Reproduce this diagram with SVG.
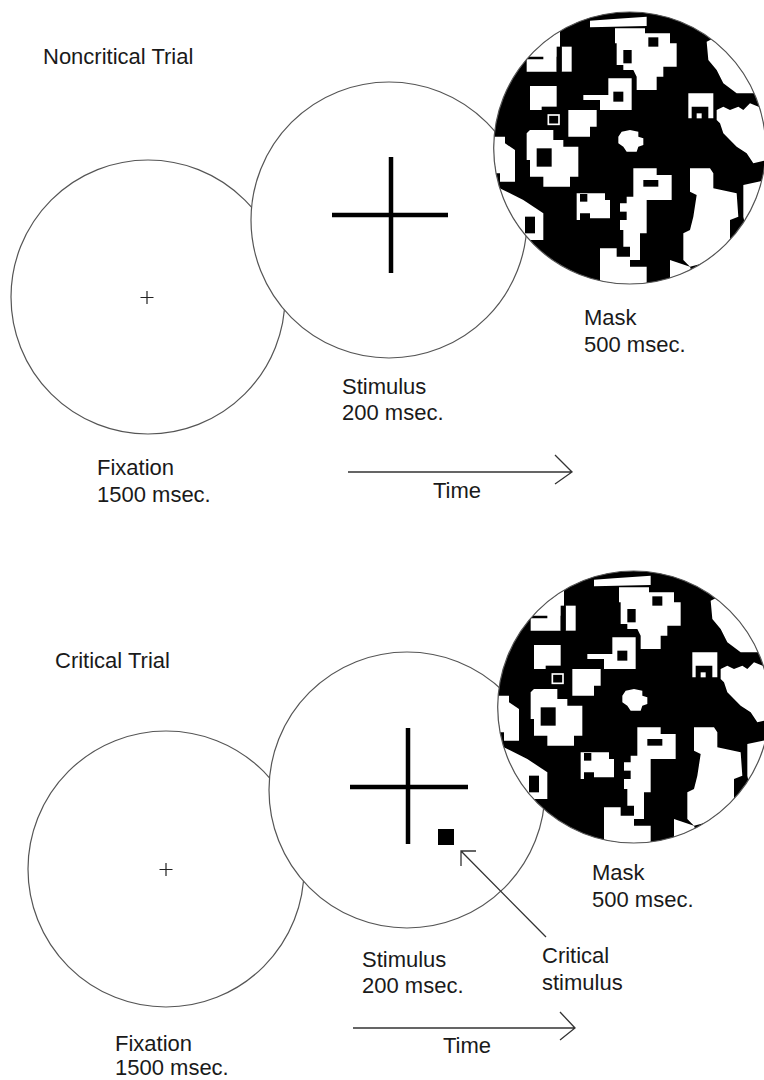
<svg xmlns="http://www.w3.org/2000/svg" xmlns:xlink="http://www.w3.org/1999/xlink" width="764" height="1080" viewBox="0 0 764 1080">
<style>
.disc{fill:#fff;stroke:#555;stroke-width:1.2}
.edge{fill:none;stroke:#555;stroke-width:1.2}
.fix{stroke:#222;stroke-width:1.2;fill:none}
.big{stroke:#000;stroke-width:4.5;fill:none}
.lbl{font-family:"Liberation Sans",Arial,Helvetica,sans-serif;font-size:22px;fill:#1a1a1a}
.arrow{stroke:#333;stroke-width:1.3;fill:none}
</style>
<defs>
<clipPath id="mclip"><circle cx="629.7" cy="148" r="136"/></clipPath>
<g id="maskpat">
<circle cx="629.7" cy="148" r="137" fill="#000"/>
<g transform="translate(490 0) scale(0.33333)">
<g fill="#fff">
<polygon points="300,62 360,58 470,50 470,78 300,82"/>
<polygon points="120,90 210,90 210,170 100,170"/>
<polygon points="375,85 465,85 465,100 540,100 540,130 560,130 560,200 520,200 520,230 500,230 500,270 440,270 440,230 430,210 400,210 400,195 380,195 380,130 375,130"/>
<polygon points="110,178 160,178 160,160 200,160 200,215 110,215"/>
<rect x="215" y="140" width="30" height="75"/>
<polygon points="650,125 700,100 820,220 830,280 740,280 700,250 680,210 655,180"/>
<rect x="120" y="258" width="80" height="72"/>
<polygon points="355,235 425,235 425,330 330,330 330,300 280,300 280,285 355,285"/>
<polygon points="235,330 320,330 320,380 300,380 300,410 235,410"/>
<polygon points="120,390 190,390 190,420 220,420 220,440 265,440 265,530 240,530 240,560 160,560 160,530 120,530 120,480 110,480 110,400"/>
<polygon points="0,410 45,410 45,430 75,450 75,545 30,545 30,520 0,520"/>
<polygon points="395,395 420,390 445,395 445,410 460,415 460,435 445,440 440,455 410,455 400,440 385,430 385,410"/>
<polygon points="595,280 670,280 670,355 655,355 655,320 605,320 605,355 595,355"/>
<rect x="620" y="340" width="15" height="15"/>
<polygon points="680,330 700,320 720,330 745,320 760,330 780,310 830,330 830,480 790,490 770,460 740,440 720,420 700,400 690,370 680,360"/>
<polygon points="430,505 500,505 500,525 545,525 545,600 470,600 470,700 450,700 450,780 420,780 420,740 400,740 400,690 390,690 390,610 410,610 410,590 430,590"/>
<polygon points="600,505 660,505 670,520 670,565 740,580 745,650 720,660 720,760 690,780 640,790 600,800 580,780 580,700 600,690 610,650 620,585 600,575"/>
<polygon points="760,555 830,540 830,700 770,700 760,650"/>
<polygon points="260,580 345,580 345,600 360,600 360,655 300,655 300,640 270,640 270,660 260,660"/>
<polygon points="20,560 100,600 160,640 160,720 120,720 100,700 60,660 20,620"/>
<polygon points="330,745 380,745 380,770 420,770 420,800 470,800 470,860 330,860"/>
<polygon points="540,780 600,800 620,860 540,860"/>
</g>
<g fill="#000">
<rect x="475" y="112" width="30" height="28"/>
<rect x="400" y="150" width="25" height="40"/>
<rect x="370" y="275" width="30" height="30"/>
<rect x="155" y="320" width="75" height="65"/>
<rect x="140" y="445" width="45" height="55"/>
<rect x="460" y="540" width="45" height="20"/>
<rect x="390" y="635" width="20" height="25"/>
<rect x="270" y="582" width="22" height="23"/>
<rect x="105" y="650" width="30" height="50"/>
<rect x="200" y="140" width="15" height="75"/>
</g>
<rect x="175" y="345" width="32" height="28" fill="none" stroke="#fff" stroke-width="5"/>
</g>
</g>
<g id="maskunit">
<g clip-path="url(#mclip)"><use xlink:href="#maskpat"/></g>
<circle class="edge" cx="629.7" cy="148" r="136"/>
</g>
</defs>

<!-- Top: noncritical trial -->
<text class="lbl" x="43" y="64">Noncritical Trial</text>
<g id="fixation1">
<circle class="disc" cx="148" cy="297" r="137"/>
<path class="fix" d="M140.5 297.5h13M147 291v13"/>
<text class="lbl" x="97" y="475">Fixation</text>
<text class="lbl" x="97" y="502">1500 msec.</text>
</g>
<g id="stimulus1">
<circle class="disc" cx="389" cy="220" r="138"/>
<path class="big" d="M332 215h116M391 157v116"/>
<text class="lbl" x="342" y="394">Stimulus</text>
<text class="lbl" x="342" y="420">200 msec.</text>
</g>
<g id="mask1">
<use xlink:href="#maskunit"/>
<text class="lbl" x="584" y="325">Mask</text>
<text class="lbl" x="584" y="352">500 msec.</text>
</g>

<!-- Bottom: critical trial -->
<text class="lbl" x="55" y="668">Critical Trial</text>
<g id="fixation2">
<circle class="disc" cx="166" cy="869" r="138"/>
<path class="fix" d="M159.5 869.5h13M166 863v13"/>
<text class="lbl" x="115" y="1051">Fixation</text>
<text class="lbl" x="115" y="1075">1500 msec.</text>
</g>
<g id="stimulus2">
<circle class="disc" cx="407" cy="790" r="138"/>
<path class="big" d="M350 787h118M408 728v116"/>
<rect x="438" y="829" width="16" height="16" fill="#000"/>
<text class="lbl" x="362" y="967">Stimulus</text>
<text class="lbl" x="362" y="993">200 msec.</text>
</g>
<g id="mask2">
<use xlink:href="#maskunit" transform="translate(4 559)"/>
<text class="lbl" x="592" y="880">Mask</text>
<text class="lbl" x="592" y="907">500 msec.</text>
</g>
<g id="critical-label">
<text class="lbl" x="542" y="963">Critical</text>
<text class="lbl" x="542" y="990">stimulus</text>
</g>

<g id="connectors">
<path class="arrow" d="M348 472H572M555 455l17 17-17 12"/>
<text class="lbl" x="433" y="498">Time</text>
<path class="arrow" d="M353 1028H575M560 1012l15 16-15 12"/>
<text class="lbl" x="443" y="1053">Time</text>
<path class="arrow" d="M546 937L461 851M461 866V851h15"/>
</g>
</svg>
